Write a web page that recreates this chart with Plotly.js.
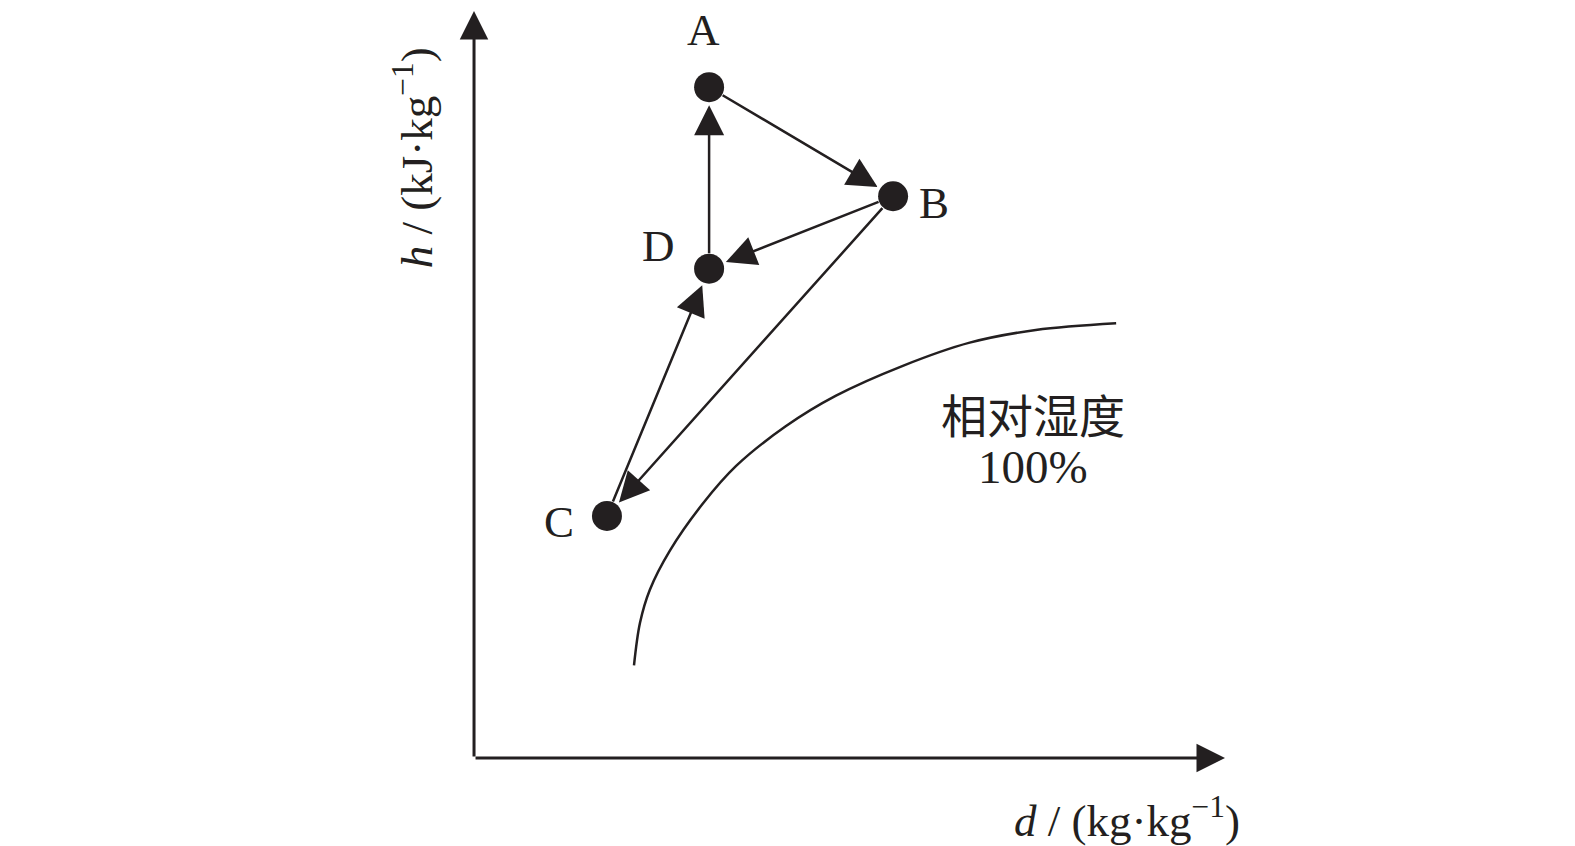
<!DOCTYPE html>
<html>
<head>
<meta charset="utf-8">
<script src="https://cdn.plot.ly/plotly-3.0.1.min.js"></script>
<style>html,body{margin:0;padding:0;background:#fff;}</style>
</head>
<body>
<div id="chart" style="width:1575px;height:846px;"></div>
<script>
// State points (arbitrary units: d = humidity ratio, h = enthalpy)
var pointNames = ['A', 'B', 'C', 'D'];
var pointD = [31.3, 55.8, 17.7, 31.3];
var pointH = [89.8, 75.2, 32.4, 65.5];
// Label positions for the points
var labelD = [30.6, 61.3, 11.3, 24.6];
var labelH = [97.5, 74.3, 31.6, 68.5];
// Process arrows: [from, to] as point indices
var arrowFrom = [0, 1, 3, 1, 2];
var arrowTo   = [1, 3, 0, 2, 3];
// Saturation curve (relative humidity 100%)
var satD = [21.3, 22.1, 23.4, 26.1, 30.5, 34.9, 41.5, 48.2, 57.1, 66.0, 74.8, 85.5];
var satH = [12.4, 18.1, 22.5, 27.8, 34.1, 39.1, 44.4, 48.5, 52.5, 55.6, 57.3, 58.2];
var satLabel = ['相对湿度', '100%'];
var xTitle = '<i>d</i> / (kg·kg<sup>−1</sup>)';
var yTitle = '<i>h</i> / (kJ·kg<sup>−1</sup>)';

var ink = '#231f20';
var serif = 'Liberation Serif, Times New Roman, serif';

var traces = [
  {x: satD, y: satH, mode: 'lines', line: {color: ink, width: 2.5, shape: 'spline', smoothing: 1}, hoverinfo: 'skip'},
  {x: pointD, y: pointH, mode: 'markers', marker: {color: ink, size: 30}, hoverinfo: 'skip'}
];

var ann = [];
// axes with arrows
ann.push({x: 100, y: 0, ax: 0, ay: 0, xref: 'x', yref: 'y', axref: 'x', ayref: 'y', text: '', showarrow: true,
  arrowhead: 2, arrowsize: 1.9, arrowwidth: 3, arrowcolor: ink});
ann.push({x: 0, y: 100, ax: 0, ay: 0, xref: 'x', yref: 'y', axref: 'x', ayref: 'y', text: '', showarrow: true,
  arrowhead: 2, arrowsize: 1.9, arrowwidth: 3, arrowcolor: ink});
// process arrows
for (var i = 0; i < arrowFrom.length; i++) {
  var f = arrowFrom[i], t = arrowTo[i];
  ann.push({x: pointD[t], y: pointH[t], ax: pointD[f], ay: pointH[f], xref: 'x', yref: 'y', axref: 'x', ayref: 'y',
    text: '', showarrow: true, arrowhead: 2, arrowsize: 2.4, arrowwidth: 2.5, arrowcolor: ink,
    standoff: 18, startstandoff: 14});
}
// point labels
for (var j = 0; j < pointNames.length; j++) {
  ann.push({x: labelD[j], y: labelH[j], xref: 'x', yref: 'y', text: pointNames[j], showarrow: false,
    font: {family: serif, size: 45, color: ink}});
}
// saturation label
ann.push({x: 74.4, y: 46.2, xref: 'x', yref: 'y', text: satLabel[0], showarrow: false,
  font: {family: 'Noto Sans CJK SC', size: 46, color: ink}});
ann.push({x: 74.4, y: 38.9, xref: 'x', yref: 'y', text: satLabel[1], showarrow: false,
  font: {family: serif, size: 47, color: ink}});
// axis titles
ann.push({x: 87.0, y: -8.0, xref: 'x', yref: 'y', text: xTitle, showarrow: false,
  font: {family: serif, size: 45, color: ink}});
ann.push({x: -8.1, y: 80.3, xref: 'x', yref: 'y', text: yTitle, showarrow: false, textangle: -90,
  font: {family: serif, size: 45, color: ink}});

var layout = {
  width: 1575, height: 846,
  margin: {l: 0, r: 0, t: 0, b: 0},
  paper_bgcolor: '#fff', plot_bgcolor: '#fff',
  showlegend: false,
  xaxis: {range: [-63.12, 146.6], visible: false, fixedrange: true},
  yaxis: {range: [-11.78, 101.47], visible: false, fixedrange: true},
  annotations: ann
};
Plotly.newPlot('chart', traces, layout, {staticPlot: true});
</script>
</body>
</html>
